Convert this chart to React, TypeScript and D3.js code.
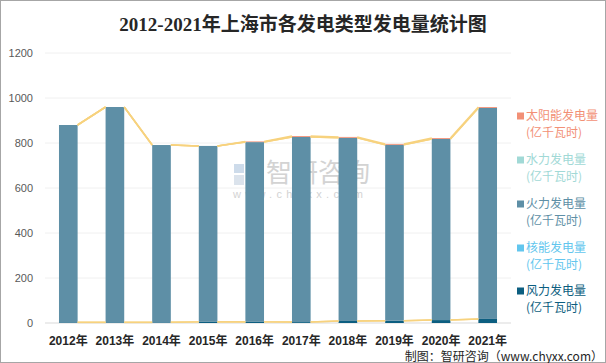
import React from "react";
import * as d3 from "d3";

const years = ["2012年", "2013年", "2014年", "2015年", "2016年", "2017年", "2018年", "2019年", "2020年", "2021年"];
const windVals = [3, 3, 3, 5, 5, 4, 9, 10, 13, 18];
const nuclearVals = [0, 0, 0, 0, 0, 0, 0, 0, 0, 0];
const thermalVals = [877, 957, 788, 782, 799, 823, 814, 782, 805, 938];
const hydroVals = [0, 0, 0, 0, 0, 0, 0, 0, 0, 0];
const solarVals = [0, 0, 0, 0, 3, 4, 4, 4, 4, 4];
const yTicks = [0, 200, 400, 600, 800, 1000, 1200];

const seriesNames = ["风力发电量", "核能发电量", "火力发电量", "水力发电量", "太阳能发电量"];
const seriesColors = ["#0C5E80", "#62C6EE", "#5E8FA6", "#A1D9D6", "#F29076"];
const seriesData = [windVals, nuclearVals, thermalVals, hydroVals, solarVals];

const W = 606;
const H = 363;

export default function App() {
  const x = d3.scaleBand<string>().domain(years).range([45, 511]).paddingInner(0.6).paddingOuter(0.3);
  const y = d3.scaleLinear().domain([0, 1200]).range([323, 53]);

  const rows = years.map((yr, i) => {
    const r: any = { year: yr };
    seriesNames.forEach((n, k) => (r[n] = seriesData[k][i]));
    return r;
  });
  const stacked = d3.stack<any>().keys(seriesNames)(rows);
  const bw = x.bandwidth();

  // legend order: top of stack first
  const legendOrder = [4, 3, 2, 1, 0];
  const legendY = [116, 160, 204, 248, 291];

  return (
    <svg
      width={W}
      height={H}
      style={{ position: "fixed", left: 0, top: 0, background: "#fff" }}
      fontFamily="'Liberation Sans', 'Noto Sans CJK SC', sans-serif"
    >
      <rect x={0.5} y={0.5} width={W - 1} height={H - 1} fill="#fff" stroke="#A6A6A6" />
      <text
        x={303}
        y={31}
        textAnchor="middle"
        fontSize={19}
        fontWeight="bold"
        fill="#262626"
        fontFamily="'Liberation Serif', 'Noto Sans CJK SC', serif"
      >
        2012-2021年上海市各发电类型发电量统计图
      </text>

      {yTicks.map((t) => (
        <g key={t}>
          <line x1={45} x2={511} y1={y(t)} y2={y(t)} stroke={t === 0 ? "#D9D9D9" : "#F0F0F0"} strokeWidth={1} />
          <text x={33} y={y(t) + 4} textAnchor="end" fontSize={11} fill="#595959">
            {t}
          </text>
        </g>
      ))}

      {/* watermark */}
      <g opacity={0.5}>
        <rect x={234} y={164} width={10} height={9} fill="#9DB8D6" />
        <rect x={246} y={164} width={13} height={9} fill="#8AA3C0" />
        <rect x={234} y={175} width={10} height={10} fill="#B8C8DA" />
        <rect x={246} y={175} width={13} height={10} fill="#7FA1C9" />
        <text x={266} y={182} fontSize={26} fill="#A8A8A8" fontFamily="'Noto Sans CJK SC', sans-serif">
          智研咨询
        </text>
        <text x={233} y={198} fontSize={11} fill="#A8A8A8" letterSpacing={4.3}>
          www.chyxx.com
        </text>
      </g>

      {stacked.map((s, k) => (
        <g key={s.key} fill={seriesColors[k]}>
          {s.map((d, i) => {
            const h = y(d[0]) - y(d[1]);
            if (h <= 0) return null;
            return <rect key={i} x={x(years[i])} y={y(d[1])} width={bw} height={h} />;
          })}
        </g>
      ))}

      {/* series lines */}
      {stacked.map((s, k) => (
        <g key={"sl" + s.key}>
          {s.slice(0, -1).map((d, i) => (
            <line
              key={i}
              x1={(x(years[i]) as number) + bw}
              y1={y(d[1])}
              x2={x(years[i + 1]) as number}
              y2={y(s[i + 1][1])}
              stroke="#F7D27E"
              strokeWidth={1.5}
            />
          ))}
        </g>
      ))}

      {years.map((yr) => (
        <text
          key={yr}
          x={(x(yr) as number) + bw / 2}
          y={345}
          textAnchor="middle"
          fontSize={12}
          fontWeight="bold"
          fill="#262626"
          fontFamily="'Liberation Sans', 'Noto Sans CJK SC', sans-serif"
        >
          {yr}
        </text>
      ))}

      {legendOrder.map((k, j) => (
        <g key={"lg" + k}>
          <rect x={517} y={legendY[j] - 3.5} width={7} height={7} fill={seriesColors[k]} />
          <text x={526} y={legendY[j] + 4} fontSize={12} fill={seriesColors[k]} fontFamily="'Noto Sans CJK SC', sans-serif">
            {seriesNames[k]}
          </text>
          <text x={526} y={legendY[j] + 21} fontSize={12} fill={seriesColors[k]} fontFamily="'Noto Sans CJK SC', sans-serif">
            (亿千瓦时)
          </text>
        </g>
      ))}

      <text x={603} y={361} textAnchor="end" fontSize={12} fill="#262626" fontFamily="'Noto Sans CJK SC', sans-serif">
        制图：智研咨询（www.chyxx.com）
      </text>
    </svg>
  );
}
